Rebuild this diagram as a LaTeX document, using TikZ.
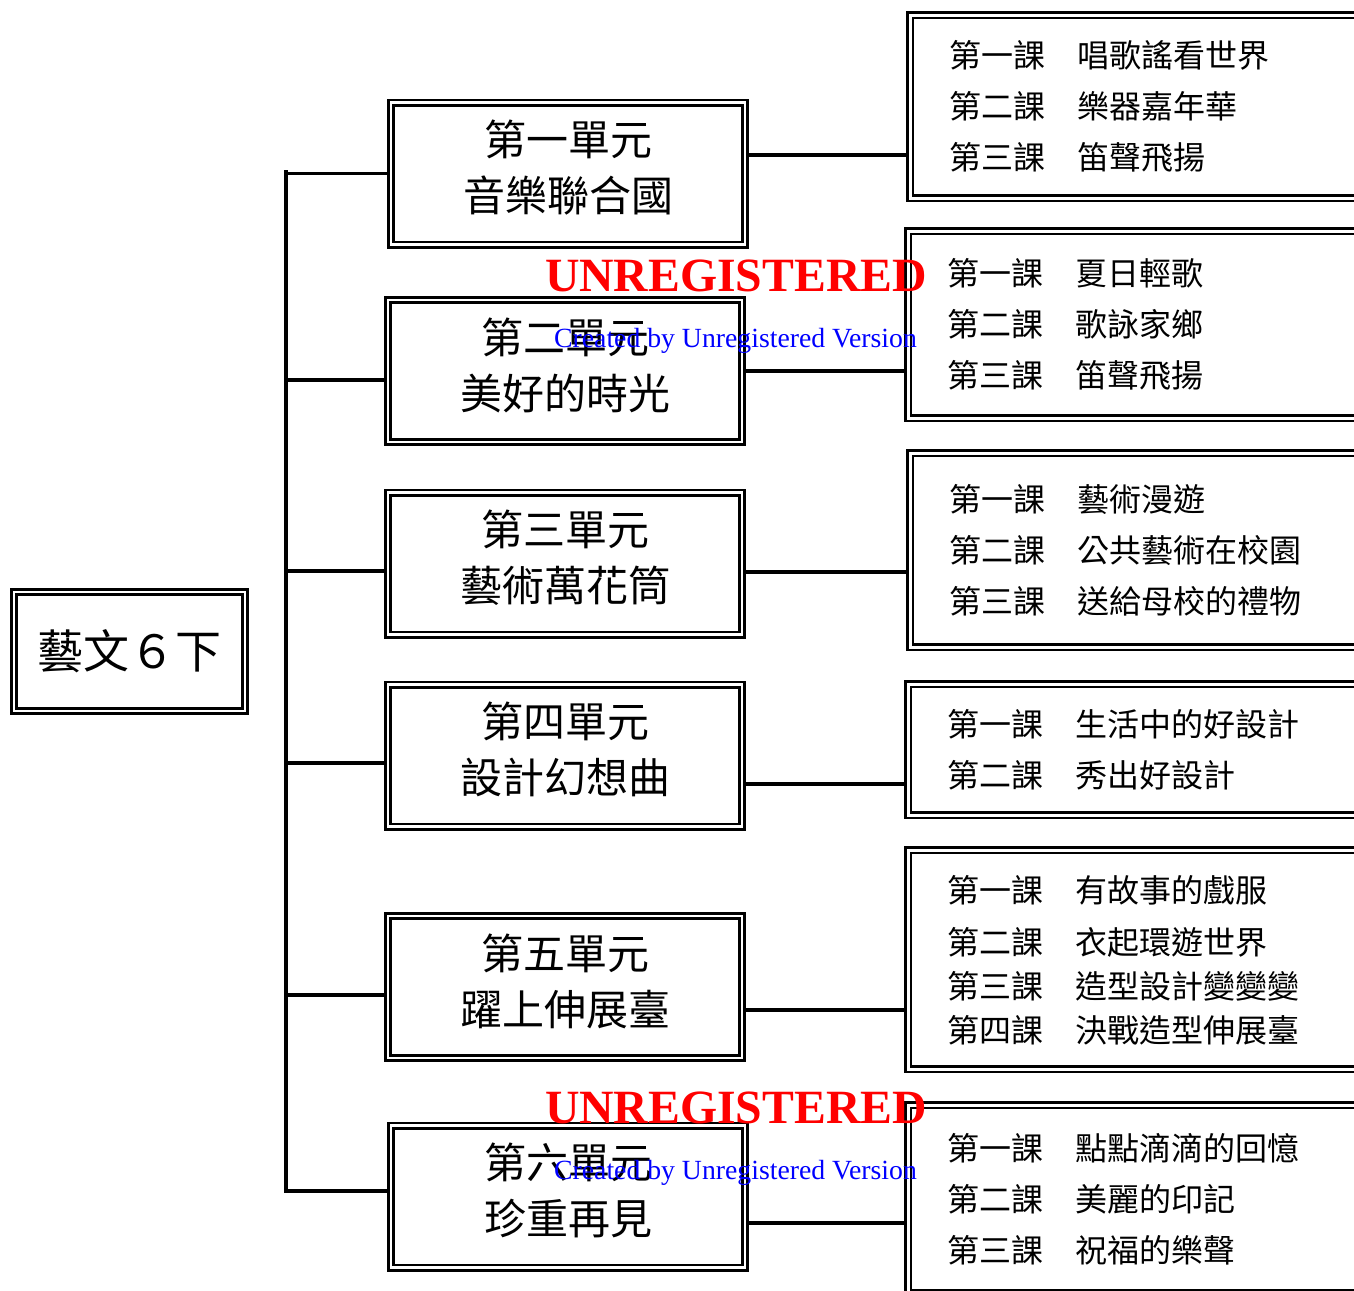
\documentclass[tikz,border=0pt]{standalone}
\usepackage{fontspec}
\setmainfont{Noto Sans CJK TC}
\newfontfamily\wmfont{Liberation Serif}
\usetikzlibrary{backgrounds}
\tikzset{
  dblbox/.style={rectangle, draw=black, line width=1.9pt, double=white,
                 double distance=2.2pt, fill=white, inner sep=0pt},
  rootbox/.style={dblbox, minimum width=173.25pt, minimum height=89.25pt,
                  font=\fontsize{34.5pt}{40pt}\selectfont},
  unitbox/.style={dblbox, minimum width=265.5pt, minimum height=106.5pt},
  unittext/.style={align=center, inner sep=0pt,
                   font=\fontsize{31.5pt}{42pt}\selectfont},
  lessonbox/.style={dblbox, anchor=north west, inner xsep=29.25pt,
                    text width=324.75pt, align=left,
                    font=\fontsize{24pt}{38.25pt}\selectfont},
  branch/.style={line width=2.8pt},
  wmbig/.style={font=\wmfont\bfseries\fontsize{35.8pt}{40pt}\selectfont,
                text=red, inner sep=0pt},
  wmsmall/.style={font=\wmfont\fontsize{20.8pt}{24pt}\selectfont,
                  text=blue, inner sep=0pt},
}

\begin{document}
\begin{tikzpicture}[x=0.75pt, y=-0.75pt]
  \useasboundingbox (0,0) rectangle (1354,1290);
  \clip (0,0) rectangle (1354,1290);

  % Root
  \node[rootbox] (root) at (129.5,651.5) {藝文６下};

  % Units
  \node[unitbox] (u1) at (568,173.5) {};
  \node[unitbox] (u2) at (565,371)   {};
  \node[unitbox] (u3) at (565,563.5) {};
  \node[unitbox] (u4) at (565,755.5) {};
  \node[unitbox] (u5) at (565,987)   {};
  \node[unitbox] (u6) at (568,1196.5) {};
  \node[unittext] (t1) at ([yshift=4.5pt]u1.center) {第一單元\\音樂聯合國};
  \node[unittext] (t2) at ([yshift=4.5pt]u2.center) {第二單元\\美好的時光};
  \node[unittext] (t3) at ([yshift=4.5pt]u3.center) {第三單元\\藝術萬花筒};
  \node[unittext] (t4) at ([yshift=4.5pt]u4.center) {第四單元\\設計幻想曲};
  \node[unittext] (t5) at ([yshift=4.5pt]u5.center) {第五單元\\躍上伸展臺};
  \node[unittext] (t6) at ([yshift=4.5pt]u6.center) {第六單元\\珍重再見};

  % Lessons
  \node[lessonbox, minimum height=137.25pt] (l1) at (909,14)
    {第一課　唱歌謠看世界\\第二課　樂器嘉年華\\第三課　笛聲飛揚};
  \node[lessonbox, minimum height=140.25pt] (l2) at (907,230)
    {第一課　夏日輕歌\\第二課　歌詠家鄉\\第三課　笛聲飛揚};
  \node[lessonbox, minimum height=145.5pt] (l3) at (909,452)
    {第一課　藝術漫遊\\第二課　公共藝術在校園\\第三課　送給母校的禮物};
  \node[lessonbox, minimum height=98.25pt] (l4) at (907,683)
    {第一課　生活中的好設計\\第二課　秀出好設計};
  \node[lessonbox, minimum height=164.25pt,
        font=\fontsize{24pt}{33pt}\selectfont] (l5) at (907,849)
    {第一課　有故事的戲服\\[6pt]第二課　衣起環遊世界\\第三課　造型設計變變變\\第四課　決戰造型伸展臺};
  \node[lessonbox, minimum height=141pt] (l6) at (907,1104)
    {第一課　點點滴滴的回憶\\第二課　美麗的印記\\第三課　祝福的樂聲};

  % Trunk and branches
  \coordinate (ttop) at (286,170);
  \coordinate (tbot) at (286,1193);
  \begin{scope}[on background layer]
    \draw[branch] (ttop) -- (tbot);
    \draw[branch] (u1.west -| ttop) -- (u1.west);
    \draw[branch] ([yshift=-6.75pt]u2.west -| ttop) -- ([yshift=-6.75pt]u2.west);
    \draw[branch] ([yshift=-5.6pt]u3.west -| ttop) -- ([yshift=-5.6pt]u3.west);
    \draw[branch] ([yshift=-5.6pt]u4.west -| ttop) -- ([yshift=-5.6pt]u4.west);
    \draw[branch] ([yshift=-6pt]u5.west -| ttop) -- ([yshift=-6pt]u5.west);
    \draw[branch] ([yshift=4.1pt]u6.west -| ttop) -- ([yshift=4.1pt]u6.west);

    \draw[branch] ([yshift=13.9pt]u1.east) -- ([yshift=13.9pt]u1.east -| l1.west);
    \draw[branch] (u2.east) -- (u2.east -| l2.west);
    \draw[branch] ([yshift=-6.4pt]u3.east) -- ([yshift=-6.4pt]u3.east -| l3.west);
    \draw[branch] ([yshift=-21.4pt]u4.east) -- ([yshift=-21.4pt]u4.east -| l4.west);
    \draw[branch] ([yshift=-17.25pt]u5.east) -- ([yshift=-17.25pt]u5.east -| l5.west);
    \draw[branch] ([yshift=-19.9pt]u6.east) -- ([yshift=-19.9pt]u6.east -| l6.west);
  \end{scope}

  % Watermarks
  \node[wmbig] (wm1) at (736,276) {UNREGISTERED};
  \node[wmsmall] (wm2) at (735.5,341) {Created by Unregistered Version};
  \node[wmbig] (wm3) at (736,1108) {UNREGISTERED};
  \node[wmsmall] (wm4) at (735.5,1173) {Created by Unregistered Version};
\end{tikzpicture}
\end{document}
